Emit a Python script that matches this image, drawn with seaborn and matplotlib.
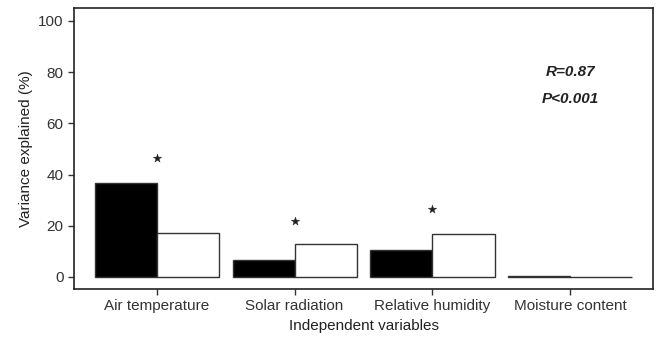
import matplotlib
matplotlib.use("Agg")
import matplotlib.pyplot as plt
import seaborn as sns
import pandas as pd

categories = ["Air temperature", "Solar radiation", "Relative humidity", "Moisture content"]
series_names = ["Series 1", "Series 2"]
values_black = [36.7, 6.8, 10.4, 0.5]
values_white = [17.0, 12.7, 16.6, 0.1]
star_categories = ["Air temperature", "Solar radiation", "Relative humidity"]
star_heights = [46.3, 21.8, 26.4]
y_ticks = [0, 20, 40, 60, 80, 100]

sns.set_theme(style="ticks")
plt.rcParams['font.family'] = ['Liberation Sans', 'DejaVu Sans']

df = pd.DataFrame({
    "Variable": categories * 2,
    "Series": [series_names[0]] * 4 + [series_names[1]] * 4,
    "Value": values_black + values_white,
})
stars = pd.DataFrame({"Variable": star_categories, "Height": star_heights})

fig = plt.figure(figsize=(6.59, 3.4), dpi=100)
ax = fig.add_axes([0.1123, 0.15, 0.8787, 0.826])

sns.barplot(data=df, x="Variable", y="Value", hue="Series", order=categories,
            hue_order=series_names, palette=["black", "white"], width=0.9,
            edgecolor="#333333", linewidth=1.0, legend=False, ax=ax, errorbar=None)

sns.scatterplot(data=stars, x="Variable", y="Height", marker="*", s=40,
                color="#222222", edgecolor="#222222", linewidth=0.3, ax=ax, legend=False)

ax.text(3, 80, "R=0.87", ha="center", va="center", fontsize=11, fontstyle="italic",
        fontweight="bold", color="#222222")
ax.text(3, 69.5, "P<0.001", ha="center", va="center", fontsize=11, fontstyle="italic",
        fontweight="bold", color="#222222")

ax.set_xlim(-0.6, 3.6)
ax.set_ylim(-4.7, 105)
ax.set_yticks(y_ticks)
ax.set_xlabel("Independent variables", fontsize=11, color="#222222")
ax.set_ylabel("Variance explained (%)", fontsize=11, color="#222222")
ax.tick_params(axis="both", labelsize=11, labelcolor="#333333", color="#333333",
               direction="out", length=4, width=1)
for s in ax.spines.values():
    s.set_visible(True)
    s.set_color("#222222")
    s.set_linewidth(1.2)

fig.savefig("out.png", dpi=100)
